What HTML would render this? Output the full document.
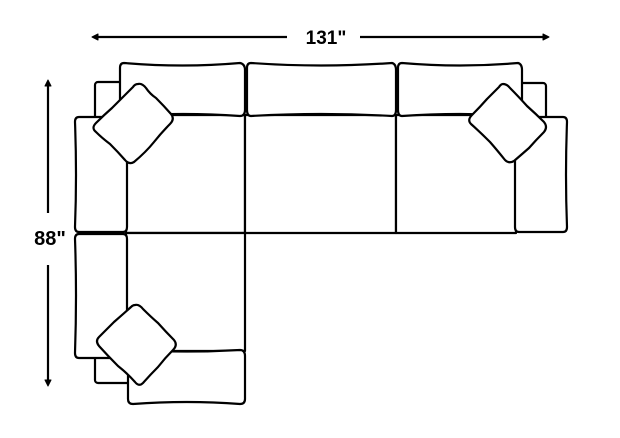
<!DOCTYPE html>
<html><head><style>html,body{margin:0;padding:0;background:#fff;}svg{display:block;}</style></head>
<body>
<svg width="620" height="438" viewBox="0 0 620 438" xmlns="http://www.w3.org/2000/svg">
<g fill="#fff" stroke="#000" stroke-width="2.2" stroke-linejoin="round">
<!-- dimension lines -->
<line x1="95" y1="37" x2="287" y2="37"/>
<line x1="360" y1="37" x2="545" y2="37"/>
<path d="M92 37 L98 34 L98 40 Z" fill="#000" stroke-width="1"/>
<path d="M549 37 L543 34 L543 40 Z" fill="#000" stroke-width="1"/>
<line x1="48" y1="84" x2="48" y2="213"/>
<line x1="48" y1="265" x2="48" y2="382"/>
<path d="M48 80 L45 86 L51 86 Z" fill="#000" stroke-width="1"/>
<path d="M48 386 L45 380 L51 380 Z" fill="#000" stroke-width="1"/>
<!-- back blocks -->
<rect x="95" y="82" width="30" height="40" rx="3"/>
<rect x="518" y="83" width="28" height="40" rx="3"/>
<rect x="95" y="345" width="35" height="38" rx="3"/>
<!-- seats -->
<rect x="126" y="115" width="119" height="118"/>
<rect x="245" y="115" width="151" height="118"/>
<rect x="396" y="115" width="120" height="118"/>
<rect x="126" y="233" width="119" height="118"/>
<!-- back cushions -->
<path d="M124 63 Q183 68 240 63 Q245 64 245 70 L245 110 Q245 116 240 116 Q183 112 126 116 Q120 116 120 110 L120 68 Q120 63 124 63 Z"/>
<path d="M251 63 Q321 68 392 63 Q396 64 396 70 L396 110 Q396 116 392 116 Q321 112 251 116 Q247 116 247 110 L247 68 Q247 63 251 63 Z"/>
<path d="M402 63 Q460 68 518 63 Q522 64 522 70 L522 110 Q522 116 518 116 Q460 112 402 116 Q398 116 398 110 L398 68 Q398 63 402 63 Z"/>
<!-- arms -->
<path d="M79 117 L123 117 Q127 117 127 122 L127 227 Q127 232 123 232 L79 232 Q75 232 75 227 Q77 175 75 122 Q75 117 79 117 Z"/>
<path d="M79 234 L123 234 Q127 234 127 239 L127 353 Q127 358 123 358 L79 358 Q75 358 75 353 Q77 295 75 239 Q75 234 79 234 Z"/>
<path d="M519 117 L563 117 Q567 117 567 122 Q565 175 567 227 Q567 232 563 232 L519 232 Q515 232 515 227 L515 122 Q515 117 519 117 Z"/>
<!-- bottom cushion -->
<path d="M133 350 Q187 353 240 350 Q245 350 245 356 L245 399 Q245 404 240 404 Q187 400 133 404 Q128 404 128 399 L128 356 Q128 350 133 350 Z"/>
<!-- pillows -->
<path d="M138 84 Q142 83 146 88 Q150 94 156 98 Q164 106 171 114 Q175 119 170 124 Q162 132 154 142 Q146 152 134 162 Q129 165 125 160 Q118 152 110 144 Q102 138 96 132 Q91 128 96 123 Q104 115 112 108 Q122 98 133 87 Q135 84 138 84 Z"/>
<path d="M135 305 Q139 304 143 309 Q151 317 158 323 Q166 332 174 340 Q178 345 173 350 Q165 358 158 367 Q150 375 143 383 Q139 387 135 382 Q127 373 118 366 Q108 356 99 346 Q95 341 99 337 Q107 329 114 322 Q122 315 131 307 Q133 305 135 305 Z"/>
<path d="M503 84 Q507 84 510 88 Q518 96 527 106 Q536 114 544 122 Q548 127 544 132 Q536 140 529 148 Q521 155 514 161 Q509 164 505 160 Q497 150 490 142 Q480 132 471 124 Q467 120 472 115 Q480 107 487 99 Q494 92 499 87 Q501 84 503 84 Z"/>
</g>
<text x="326" y="44" font-family="Liberation Sans, sans-serif" font-weight="bold" font-size="19" text-anchor="middle">131"</text>
<text x="50" y="245" font-family="Liberation Sans, sans-serif" font-weight="bold" font-size="20" text-anchor="middle">88"</text>
</svg>
</body></html>
